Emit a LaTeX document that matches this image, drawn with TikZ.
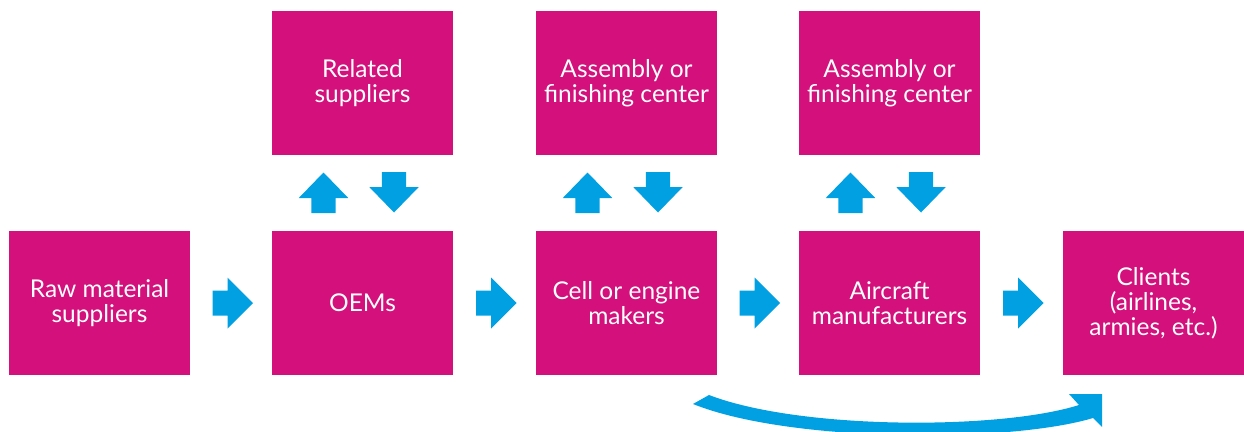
\documentclass[tikz,border=0pt]{standalone}
\usepackage{fontspec}
\setmainfont{Lato}
\usetikzlibrary{calc}
\definecolor{mag}{RGB}{211,16,123}
\definecolor{cyanblue}{RGB}{0,160,227}
\begin{document}
\begin{tikzpicture}[x=1pt,y=-1pt,
  box/.style={rectangle,fill=mag,text=white,minimum width=181pt,minimum height=144pt,inner sep=0pt,align=center,font=\fontsize{24.5}{25}\selectfont},
  blockarr/.pic={\fill[cyanblue] (-20,-12.5) -- (-5,-12.5) -- (-5,-25.5) -- (20.5,0) -- (-5,25.5) -- (-5,12.5) -- (-20,12.5) -- cycle;}]
\useasboundingbox (0,0) rectangle (1244,431);
\node[box] (raw) at (99.5,303) {Raw material\\suppliers};
\node[box] (oem) at (362.5,303) {OEMs};
\node[box] (cell) at (626.5,303) {Cell or engine\\makers};
\node[box] (air) at (889.5,303) {Aircraft\\manufacturers};
\node[box] (cli) at (1153.5,303) {Clients\\(airlines,\\armies, etc.)};
\node[box] (rel) at (362.5,83) {Related\\suppliers};
\node[box] (asm1) at (626.5,83) {Assembly or\\finishing center};
\node[box] (asm2) at (889.5,83) {Assembly or\\finishing center};
% horizontal arrows
\foreach \a/\b in {raw/oem,oem/cell,cell/air,air/cli}{
  \pic at ($(\a.east)!0.5!(\b.west)+(1.5,0)$) {blockarr};
}
% vertical arrows
\foreach \t/\b in {rel/oem,asm1/cell,asm2/air}{
  \pic[rotate=90,yscale=0.97] at ($(\t.south)!0.5!(\b.north)+(-39,0)$) {blockarr};
  \pic[rotate=-90,yscale=0.97] at ($(\t.south)!0.5!(\b.north)+(31.5,-1)$) {blockarr};
}
% curved arrow
\fill[cyanblue] (693,404) -- (709,395) .. controls (800,430) and (1000,430) .. (1079,405)
  -- (1069,394) -- (1102,394) -- (1102,427) -- (1093,418)
  .. controls (1010,443) and (790,443) .. (693,404) -- cycle;
\end{tikzpicture}
\end{document}
